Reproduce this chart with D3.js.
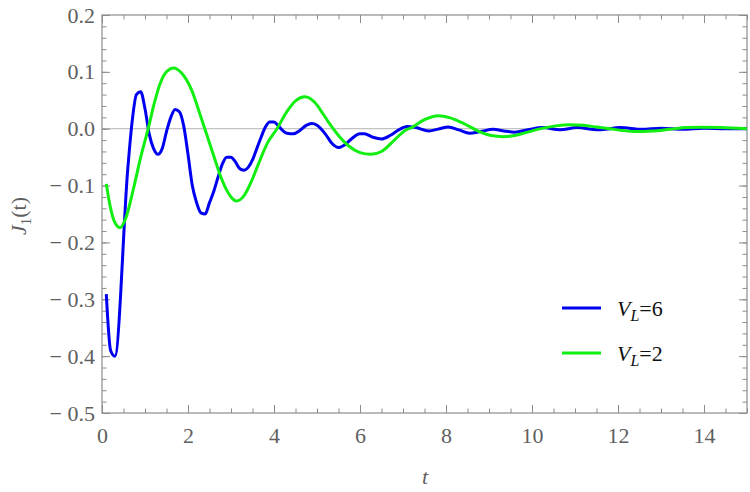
<!DOCTYPE html>
<html>
<head>
<meta charset="utf-8">
<script src="https://d3js.org/d3.v7.min.js"></script>
<style>
  body { margin: 0; background: #fff; }
  .tickText { font-family: "Liberation Serif", "Times New Roman", serif; font-size: 22px; fill: #5f5f5f; }
</style>
</head>
<body>
<div id="chart"></div>
<script>
// J_1(t), V_L = 6 (blue)
var v6T = [0.1, 0.2, 0.3, 0.6, 0.7, 0.8, 0.9, 1.0, 1.1, 1.2, 1.3, 1.4, 1.5, 1.6, 1.7, 1.8, 1.9, 2.0,
           2.1, 2.2, 2.3, 2.4, 2.5, 2.6, 2.7, 2.8, 2.9, 3.0, 3.1, 3.2, 3.3, 3.4, 3.5, 3.6, 3.7, 3.8,
           3.9, 4.0, 4.1, 4.2, 4.3, 4.45, 4.6, 4.75, 4.88, 5.0, 5.2, 5.35, 5.5, 5.65, 5.8, 6.0, 6.1,
           6.3, 6.5, 6.7, 6.9, 7.1, 7.3, 7.6, 7.85, 8.05, 8.3, 8.55, 8.8, 9.1, 9.35, 9.6, 9.9, 10.25,
           10.65, 11.05, 11.55, 12.05, 12.55, 13.0, 13.5, 14.0, 14.5, 15.0];
var v6J = [-0.291, -0.39, -0.40, -0.07, 0.012, 0.060, 0.065, 0.035, -0.010, -0.035, -0.045, -0.035, -0.005, 0.020, 0.034, 0.030, 0.005, -0.045,
           -0.10, -0.13, -0.148, -0.150, -0.13, -0.11, -0.085, -0.062, -0.050, -0.050, -0.058, -0.070, -0.073, -0.068, -0.055, -0.035, -0.015, 0.003,
           0.012, 0.012, 0.005, -0.003, -0.008, -0.009, -0.003, 0.006, 0.009, 0.006, -0.010, -0.026, -0.033, -0.028, -0.018, -0.009, -0.009,
           -0.015, -0.018, -0.012, -0.002, 0.004, 0.002, -0.004, 0.000, 0.003, -0.002, -0.008, -0.005, -0.001, -0.004, -0.006, -0.002, 0.002,
           -0.002, 0.002, -0.002, 0.002, -0.001, 0.001, -0.001, 0.001, 0.000, 0.000];

// J_1(t), V_L = 2 (green)
var v2T = [0.1, 0.2, 0.3, 0.42, 0.55, 0.73, 0.9, 1.08, 1.2, 1.35, 1.5, 1.67, 1.85, 2.09, 2.25, 2.43, 2.6, 2.74,
           2.9, 3.0, 3.13, 3.3, 3.5, 3.67, 3.85, 4.07, 4.3, 4.5, 4.72, 4.95, 5.15, 5.3, 5.5, 5.73, 6.0, 6.25,
           6.5, 6.8, 7.05, 7.2, 7.5, 7.82, 8.1, 8.33, 8.52, 8.8, 9.05, 9.33, 9.6, 9.9, 10.26, 10.55, 10.88,
           11.2, 11.5, 11.81, 12.1, 12.43, 12.8, 13.2, 13.6, 13.98, 14.4, 15.0];
var v2J = [-0.097, -0.14, -0.165, -0.174, -0.158, -0.106, -0.05, 0.002, 0.04, 0.079, 0.100, 0.107, 0.098, 0.067, 0.032, -0.009, -0.048, -0.08,
           -0.108, -0.120, -0.127, -0.118, -0.088, -0.056, -0.025, 0.0, 0.030, 0.049, 0.056, 0.046, 0.025, 0.008, -0.012, -0.030, -0.042, -0.045,
           -0.040, -0.020, -0.003, 0.002, 0.016, 0.023, 0.019, 0.012, 0.005, -0.006, -0.012, -0.014, -0.012, -0.006, 0.001, 0.005, 0.007,
           0.006, 0.003, 0.000, -0.003, -0.005, -0.004, -0.001, 0.002, 0.0025, 0.002, 0.000];

var xTicks = [0, 2, 4, 6, 8, 10, 12, 14];
var xMinor = d3.range(0, 15.01, 0.5);
var yTicks = [-0.5, -0.4, -0.3, -0.2, -0.1, 0.0, 0.1, 0.2];
var yMinor = d3.range(-0.5, 0.201, 0.02);
var legendNames = ["6", "2"];
var colors = ["#0000f0", "#12ee12"];

var width = 750, height = 492;
var padL = 102, padR = 747, padT = 15, padB = 413;

var svg = d3.select("#chart").append("svg")
  .attr("width", width)
  .attr("height", height);

var x = d3.scaleLinear().domain([0, 15]).range([padL, padR]);
var y = d3.scaleLinear().domain([-0.5, 0.2]).range([padB, padT]);

function yFmt(d) {
  if (Math.abs(d) < 1e-9) return "0.0";
  return d < 0 ? "\u2212 " + Math.abs(d).toFixed(1) : d.toFixed(1);
}

// zero line
svg.append("line")
  .attr("x1", padL).attr("x2", padR)
  .attr("y1", y(0)).attr("y2", y(0))
  .attr("stroke", "#b4b4b4")
  .attr("stroke-width", 1);

// axes: minor ticks then major ticks, all pointing inward
function drawAxis(axis, tx, ty, labels) {
  var g = svg.append("g")
    .attr("transform", "translate(" + tx + "," + ty + ")")
    .call(axis);
  g.attr("font-family", null).attr("font-size", null);
  g.select(".domain").remove();
  g.selectAll("line").attr("stroke", "#8c8c8c");
  g.selectAll("text").attr("class", "tickText");
  if (!labels) g.selectAll("text").remove();
  return g;
}

drawAxis(d3.axisBottom(x).tickValues(xMinor).tickSize(-4.5).tickFormat(""), 0, padB, false);
drawAxis(d3.axisTop(x).tickValues(xMinor).tickSize(-4.5).tickFormat(""), 0, padT, false);
drawAxis(d3.axisLeft(y).tickValues(yMinor).tickSize(-4.5).tickFormat(""), padL, 0, false);
drawAxis(d3.axisRight(y).tickValues(yMinor).tickSize(-4.5).tickFormat(""), padR, 0, false);

drawAxis(d3.axisBottom(x).tickValues(xTicks).tickSizeInner(-8).tickSizeOuter(0).tickPadding(14).tickFormat(d3.format("d")), 0, padB, true);
drawAxis(d3.axisTop(x).tickValues(xTicks).tickSize(-8).tickFormat(""), 0, padT, false);
drawAxis(d3.axisLeft(y).tickValues(yTicks).tickSizeInner(-8).tickSizeOuter(0).tickPadding(7).tickFormat(yFmt), padL, 0, true);
drawAxis(d3.axisRight(y).tickValues(yTicks).tickSize(-8).tickFormat(""), padR, 0, false);

// frame
svg.append("rect")
  .attr("x", padL).attr("y", padT)
  .attr("width", padR - padL).attr("height", padB - padT)
  .attr("fill", "none")
  .attr("stroke", "#8c8c8c")
  .attr("stroke-width", 1.2);

// curves
var line = d3.line()
  .x(function(d) { return x(d[0]); })
  .y(function(d) { return y(d[1]); })
  .curve(d3.curveMonotoneX);

svg.append("clipPath").attr("id", "plotClip")
  .append("rect")
  .attr("x", padL).attr("y", padT)
  .attr("width", padR - padL).attr("height", padB - padT);

var series = [d3.zip(v6T, v6J), d3.zip(v2T, v2J)];

svg.selectAll(".curve")
  .data(series)
  .enter().append("path")
  .attr("class", "curve")
  .attr("clip-path", "url(#plotClip)")
  .attr("d", line)
  .attr("fill", "none")
  .attr("stroke", function(d, i) { return colors[i]; })
  .attr("stroke-width", 3)
  .attr("stroke-linejoin", "round");

// axis labels
svg.append("text")
  .attr("class", "tickText")
  .attr("x", 425)
  .attr("y", 484)
  .attr("text-anchor", "middle")
  .style("font-style", "italic")
  .text("t");

var yLab = svg.append("text")
  .attr("class", "tickText")
  .attr("transform", "translate(26,216) rotate(-90)")
  .attr("text-anchor", "middle");
yLab.append("tspan").style("font-style", "italic").text("J");
yLab.append("tspan").attr("dy", 5).style("font-size", "15px").text("1");
yLab.append("tspan").attr("dy", -5).text("(t)");

// legend
var legend = svg.selectAll(".legend")
  .data(legendNames)
  .enter().append("g")
  .attr("class", "legend")
  .attr("transform", function(d, i) { return "translate(562," + (308 + i * 45) + ")"; });

legend.append("line")
  .attr("x1", 0).attr("x2", 39)
  .attr("y1", 0).attr("y2", 0)
  .attr("stroke", function(d, i) { return colors[i]; })
  .attr("stroke-width", 3);

var lt = legend.append("text")
  .attr("class", "tickText")
  .attr("x", 55)
  .attr("y", 8)
  .style("fill", "#111");
lt.append("tspan").style("font-style", "italic").text("V");
lt.append("tspan").attr("dy", 5).style("font-style", "italic").style("font-size", "16px").text("L");
lt.append("tspan").attr("dy", -5).text(function(d) { return "=" + d; });
</script>
</body>
</html>
